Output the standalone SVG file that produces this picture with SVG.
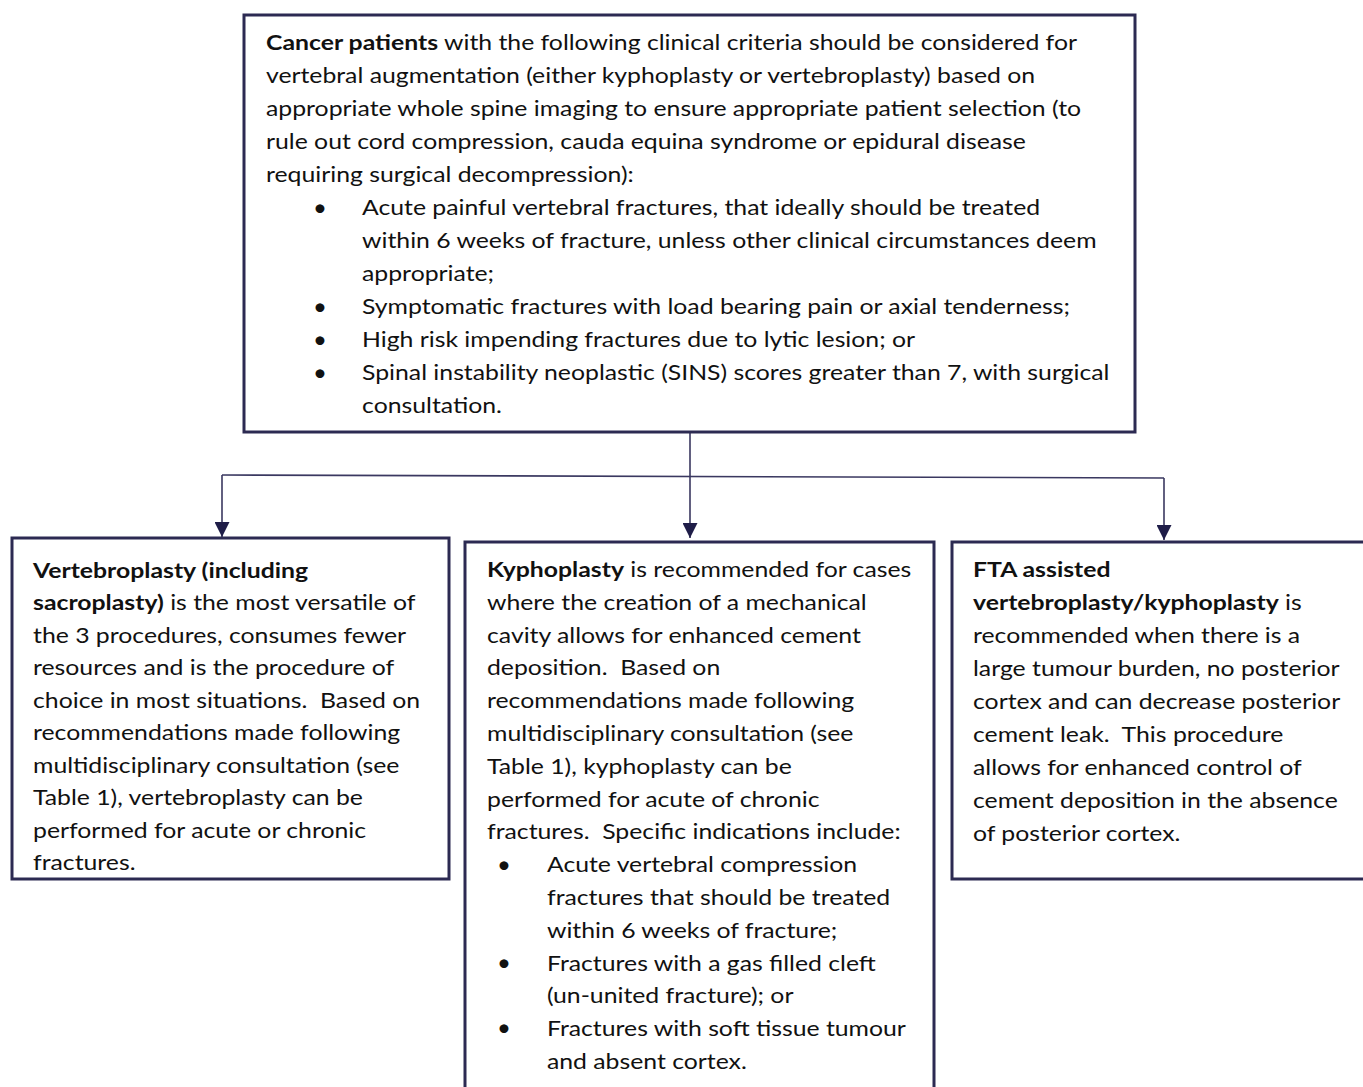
<svg xmlns="http://www.w3.org/2000/svg" width="1363" height="1087" viewBox="0 0 1363 1087">
<style>
.box{fill:#ffffff;stroke:#2c2a52;stroke-width:3}
.t{font-family:Lato,"Open Sans",sans-serif;font-size:21.5px;fill:#111111;white-space:pre}
.bu{font-family:Lato,"Open Sans",sans-serif;font-size:24px;fill:#111111}
.b{font-weight:bold}
.conn{stroke:#3a3860;stroke-width:1.6;fill:none}
</style>
<defs>
<marker id="arr" markerWidth="15" markerHeight="15" refX="15" refY="7.5" orient="auto" markerUnits="userSpaceOnUse" viewBox="0 0 15 15">
<path d="M0,0 L15,7.5 L0,15 Z" fill="#1f1d48"/>
</marker>
</defs>
<rect width="1363" height="1087" fill="#ffffff"/>
<g id="connectors">
<path class="conn" d="M690,432 V538" marker-end="url(#arr)"/>
<path class="conn" d="M222,475 L1164,478"/>
<path class="conn" d="M222,475 V537" marker-end="url(#arr)"/>
<path class="conn" d="M1164,478 V540" marker-end="url(#arr)"/>
</g>
<g id="criteria">
<rect class="box" x="244" y="15" width="891" height="417"/>
<text class="bu" x="313" y="216">•</text>
<text class="bu" x="313" y="315">•</text>
<text class="bu" x="313" y="348">•</text>
<text class="bu" x="313" y="381">•</text>
<g transform="translate(266,0) scale(1.153,1)">
<text class="t" x="0" y="50"><tspan class="b">Cancer patients</tspan> with the following clinical criteria should be considered for</text>
<text class="t" x="0" y="83">vertebral augmentation (either kyphoplasty or vertebroplasty) based on</text>
<text class="t" x="0" y="116">appropriate whole spine imaging to ensure appropriate patient selection (to</text>
<text class="t" x="0" y="149">rule out cord compression, cauda equina syndrome or epidural disease</text>
<text class="t" x="0" y="182">requiring surgical decompression):</text>
<text class="t" x="83.3" y="215">Acute painful vertebral fractures, that ideally should be treated</text>
<text class="t" x="83.3" y="248">within 6 weeks of fracture, unless other clinical circumstances deem</text>
<text class="t" x="83.3" y="281">appropriate;</text>
<text class="t" x="83.3" y="314">Symptomatic fractures with load bearing pain or axial tenderness;</text>
<text class="t" x="83.3" y="347">High risk impending fractures due to lytic lesion; or</text>
<text class="t" x="83.3" y="380">Spinal instability neoplastic (SINS) scores greater than 7, with surgical</text>
<text class="t" x="83.3" y="413">consultation.</text>
</g>
</g>
<g id="vertebroplasty">
<rect class="box" x="12" y="538" width="437" height="341"/>
<g transform="translate(33,0) scale(1.153,1)">
<text class="t" x="0" y="578"><tspan class="b">Vertebroplasty (including</tspan></text>
<text class="t" x="0" y="610.5"><tspan class="b">sacroplasty)</tspan> is the most versatile of</text>
<text class="t" x="0" y="643">the 3 procedures, consumes fewer</text>
<text class="t" x="0" y="675.5">resources and is the procedure of</text>
<text class="t" x="0" y="708">choice in most situations.  Based on</text>
<text class="t" x="0" y="740.5">recommendations made following</text>
<text class="t" x="0" y="773">multidisciplinary consultation (see</text>
<text class="t" x="0" y="805.5">Table 1), vertebroplasty can be</text>
<text class="t" x="0" y="838">performed for acute or chronic</text>
<text class="t" x="0" y="870.5">fractures.</text>
</g>
</g>
<g id="kyphoplasty">
<path class="box" d="M465,1090 V542 H934 V1090"/>
<text class="bu" x="497" y="873">•</text>
<text class="bu" x="497" y="971">•</text>
<text class="bu" x="497" y="1036">•</text>
<g transform="translate(487,0) scale(1.153,1)">
<text class="t" x="0" y="577"><tspan class="b">Kyphoplasty</tspan> is recommended for cases</text>
<text class="t" x="0" y="609.8">where the creation of a mechanical</text>
<text class="t" x="0" y="642.6">cavity allows for enhanced cement</text>
<text class="t" x="0" y="675.4">deposition.  Based on</text>
<text class="t" x="0" y="708.2">recommendations made following</text>
<text class="t" x="0" y="741">multidisciplinary consultation (see</text>
<text class="t" x="0" y="773.8">Table 1), kyphoplasty can be</text>
<text class="t" x="0" y="806.6">performed for acute of chronic</text>
<text class="t" x="0" y="839.4">fractures.  Specific indications include:</text>
<text class="t" x="52" y="872.2">Acute vertebral compression</text>
<text class="t" x="52" y="905">fractures that should be treated</text>
<text class="t" x="52" y="937.8">within 6 weeks of fracture;</text>
<text class="t" x="52" y="970.6">Fractures with a gas filled cleft</text>
<text class="t" x="52" y="1003.4">(un-united fracture); or</text>
<text class="t" x="52" y="1036.2">Fractures with soft tissue tumour</text>
<text class="t" x="52" y="1069">and absent cortex.</text>
</g>
</g>
<g id="fta">
<path class="box" d="M1366,879 H952 V542 H1366"/>
<g transform="translate(973,0) scale(1.153,1)">
<text class="t" x="0" y="577"><tspan class="b">FTA assisted</tspan></text>
<text class="t" x="0" y="610"><tspan class="b">vertebroplasty/kyphoplasty</tspan> is</text>
<text class="t" x="0" y="643">recommended when there is a</text>
<text class="t" x="0" y="676">large tumour burden, no posterior</text>
<text class="t" x="0" y="709">cortex and can decrease posterior</text>
<text class="t" x="0" y="742">cement leak.  This procedure</text>
<text class="t" x="0" y="775">allows for enhanced control of</text>
<text class="t" x="0" y="808">cement deposition in the absence</text>
<text class="t" x="0" y="841">of posterior cortex.</text>
</g>
</g>
</svg>
